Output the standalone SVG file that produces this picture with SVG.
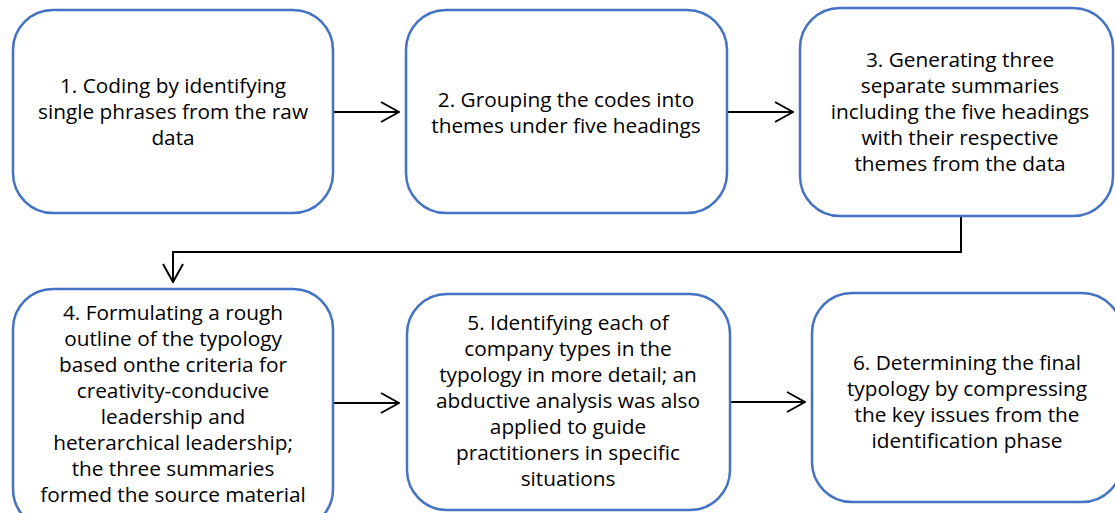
<svg xmlns="http://www.w3.org/2000/svg" width="1115" height="513" viewBox="0 0 1115 513">
<style>
.box{fill:#fff;stroke:#4472C4;stroke-width:2.5}
.t{font-family:"Open Sans","Liberation Sans",sans-serif;font-size:20.8px;fill:#000;text-anchor:middle}
.c{fill:none;stroke:#000;stroke-width:2}
</style>
<defs>
<marker id="ah" viewBox="0 0 20 22" refX="19" refY="11" markerWidth="20" markerHeight="22" markerUnits="userSpaceOnUse" orient="auto">
<path d="M1,1 L19,11 L1,21" fill="none" stroke="#000" stroke-width="2"/>
</marker>
</defs>
<rect width="1115" height="513" fill="#fff"/>
<g id="connectors">
<line class="c" x1="334" y1="112" x2="399" y2="112" marker-end="url(#ah)"/>
<line class="c" x1="728" y1="112" x2="793" y2="112" marker-end="url(#ah)"/>
<polyline class="c" points="961,217 961,252 173,252 173,282" marker-end="url(#ah)"/>
<line class="c" x1="334" y1="403" x2="399" y2="403" marker-end="url(#ah)"/>
<line class="c" x1="731" y1="402" x2="805" y2="402" marker-end="url(#ah)"/>
</g>
<g id="n1">
<rect class="box" x="13" y="10" width="320" height="203" rx="40"/>
<text class="t"><tspan x="173" y="93">1. Coding by identifying</tspan><tspan x="173" y="119">single phrases from the raw</tspan><tspan x="173" y="145">data</tspan></text>
</g>
<g id="n2">
<rect class="box" x="406" y="10" width="321" height="203" rx="40"/>
<text class="t"><tspan x="566" y="107">2. Grouping the codes into</tspan><tspan x="566" y="133">themes under five headings</tspan></text>
</g>
<g id="n3">
<rect class="box" x="800" y="8" width="313" height="208" rx="40"/>
<text class="t"><tspan x="960" y="67">3. Generating three</tspan><tspan x="960" y="93">separate summaries</tspan><tspan x="960" y="119">including the five headings</tspan><tspan x="960" y="145">with their respective</tspan><tspan x="960" y="171">themes from the data</tspan></text>
</g>
<g id="n4">
<rect class="box" x="13" y="289" width="320" height="240" rx="40"/>
<text class="t"><tspan x="173" y="320">4. Formulating a rough</tspan><tspan x="173" y="346">outline of the typology</tspan><tspan x="173" y="372">based onthe criteria for</tspan><tspan x="173" y="398">creativity-conducive</tspan><tspan x="173" y="424">leadership and</tspan><tspan x="173" y="450">heterarchical leadership;</tspan><tspan x="173" y="476">the three summaries</tspan><tspan x="173" y="502">formed the source material</tspan></text>
</g>
<g id="n5">
<rect class="box" x="407" y="294" width="323" height="216" rx="40"/>
<text class="t"><tspan x="568" y="330">5. Identifying each of</tspan><tspan x="568" y="356">company types in the</tspan><tspan x="568" y="382">typology in more detail; an</tspan><tspan x="568" y="408">abductive analysis was also</tspan><tspan x="568" y="434">applied to guide</tspan><tspan x="568" y="460">practitioners in specific</tspan><tspan x="568" y="486">situations</tspan></text>
</g>
<g id="n6">
<rect class="box" x="812" y="293" width="310" height="209" rx="40"/>
<text class="t"><tspan x="967" y="370">6. Determining the final</tspan><tspan x="967" y="396">typology by compressing</tspan><tspan x="967" y="422">the key issues from the</tspan><tspan x="967" y="448">identification phase</tspan></text>
</g>
</svg>
